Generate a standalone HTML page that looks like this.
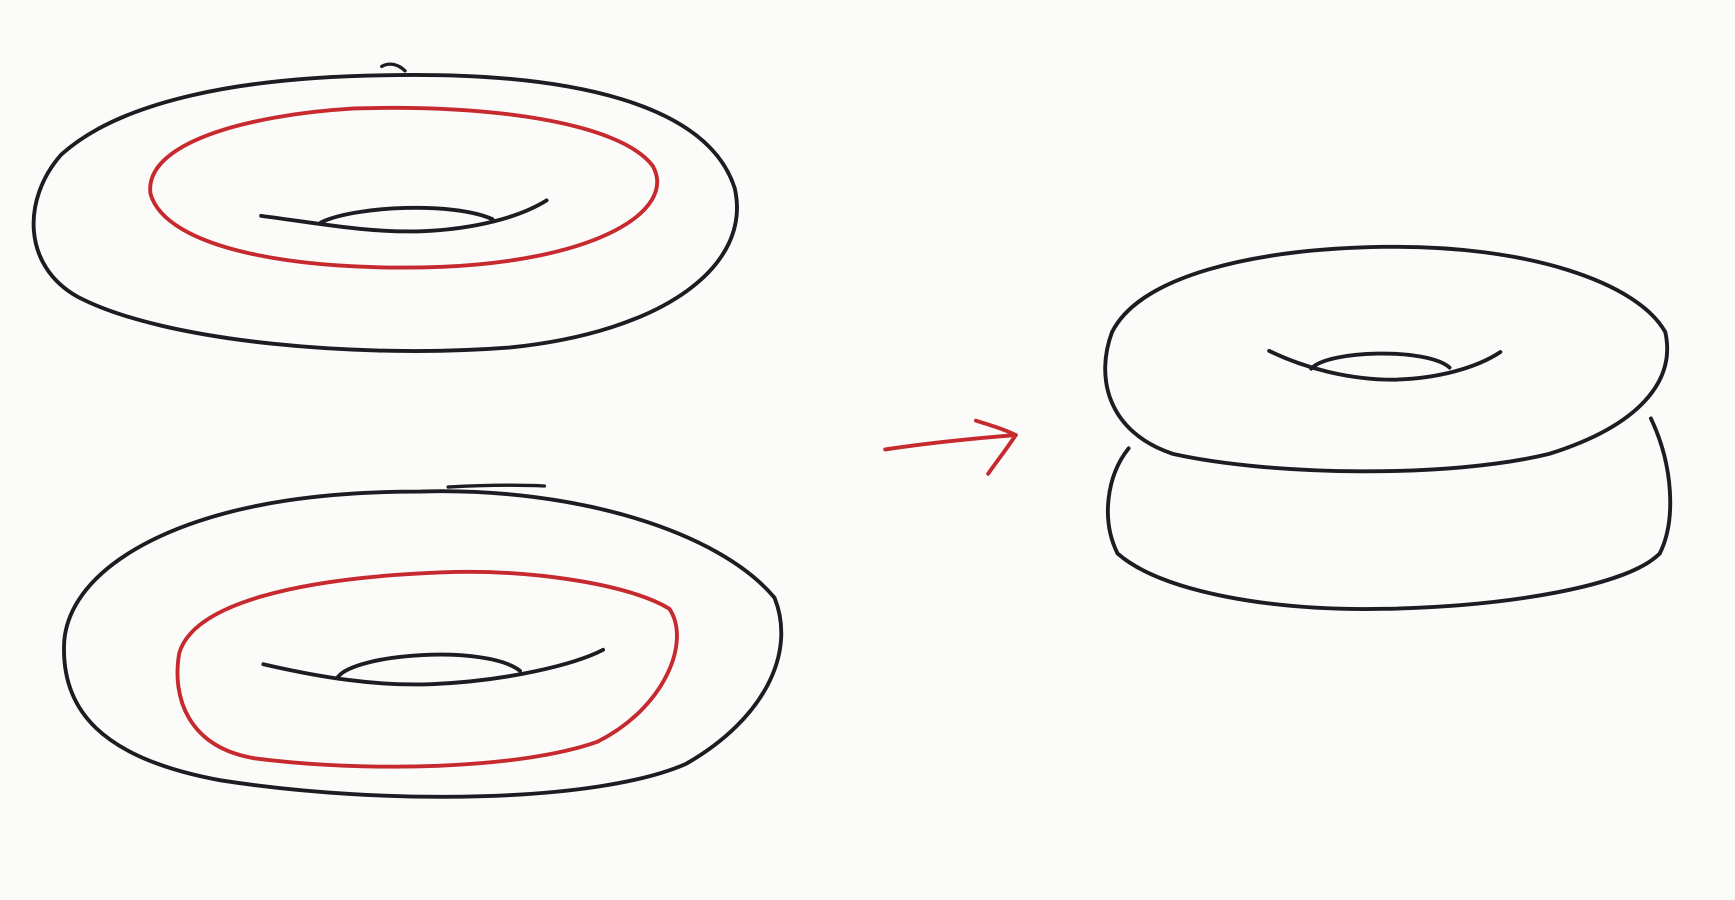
<!DOCTYPE html>
<html>
<head>
<meta charset="utf-8">
<style>
html,body{margin:0;padding:0;background:#fbfbfa;}
svg{display:block;}
</style>
</head>
<body>
<svg width="1735" height="900" viewBox="0 0 1568 813" preserveAspectRatio="none" xmlns="http://www.w3.org/2000/svg">
<rect width="1568" height="813" fill="#fbfbfa"/>
<g fill="none" stroke-linecap="round" stroke-linejoin="round">
  <!-- top torus -->
  <g>
    <path stroke="#1c1c22" stroke-width="3.5"
      d="M345,68 C520,64 640,95 664,170 C680,240 600,300 460,314 C330,324 150,310 70,268 C20,240 20,180 55,140 C110,90 220,70 345,68 Z"/>
    <path d="M345,60 C352,56 360,58 366,64" stroke="#1c1c22" stroke-width="3"/>
    <path stroke="#c62a2e" stroke-width="3.5"
      d="M320,98 C440,94 560,110 590,150 C612,190 540,235 400,241 C270,246 150,225 136,175 C130,130 220,104 320,98 Z"/>
    <path stroke="#1c1c22" stroke-width="3.5"
      d="M236,195 C290,202 330,210 380,209 C430,207 470,196 494,181"/>
    <path stroke="#1c1c22" stroke-width="3.5"
      d="M290,201 C320,186 410,182 445,198"/>
  </g>
  <!-- bottom torus -->
  <g>
    <path stroke="#1c1c22" stroke-width="3.5"
      d="M380,444 C520,440 650,480 700,540 C720,590 690,650 620,690 C540,725 350,728 200,705 C90,685 55,640 58,580 C62,520 140,470 260,452 C300,446 340,444 380,444 Z"/>
    <path d="M405,440 C440,438 470,438 492,439" stroke="#1c1c22" stroke-width="3"/>
    <path stroke="#c62a2e" stroke-width="3.5"
      d="M400,517 C480,514 570,528 605,550 C625,580 600,640 540,670 C470,695 330,698 230,685 C170,675 155,630 162,590 C175,545 270,522 400,517 Z"/>
    <path stroke="#1c1c22" stroke-width="3.5"
      d="M238,600 C290,612 340,620 390,618 C460,615 520,600 545,587"/>
    <path stroke="#1c1c22" stroke-width="3.5"
      d="M305,612 C320,590 440,582 470,606"/>
  </g>
  <!-- arrow -->
  <g stroke="#c62a2e" stroke-width="3.5">
    <path d="M800,406 C840,400 880,396 918,393"/>
    <path d="M882,380 C895,384 908,388 918,393 C910,405 900,418 893,428"/>
  </g>
  <!-- stacked torus -->
  <g>
    <path stroke="#1c1c22" stroke-width="3.5"
      d="M1250,223 C1380,221 1480,255 1505,300 C1515,345 1480,385 1400,410 C1310,432 1150,430 1060,410 C1000,390 990,340 1005,300 C1030,250 1130,225 1250,223 Z"/>
    <path stroke="#1c1c22" stroke-width="3.5"
      d="M1020,405 C1000,430 995,470 1010,500 C1050,535 1150,552 1250,550 C1360,548 1470,530 1500,500 C1515,470 1512,420 1492,378"/>
    <path stroke="#1c1c22" stroke-width="3.5"
      d="M1147,317 C1180,333 1220,343 1260,343 C1300,342 1335,332 1356,318"/>
    <path stroke="#1c1c22" stroke-width="3.5"
      d="M1185,333 C1200,316 1290,314 1310,332"/>
  </g>
</g>
</svg>
</body>
</html>
